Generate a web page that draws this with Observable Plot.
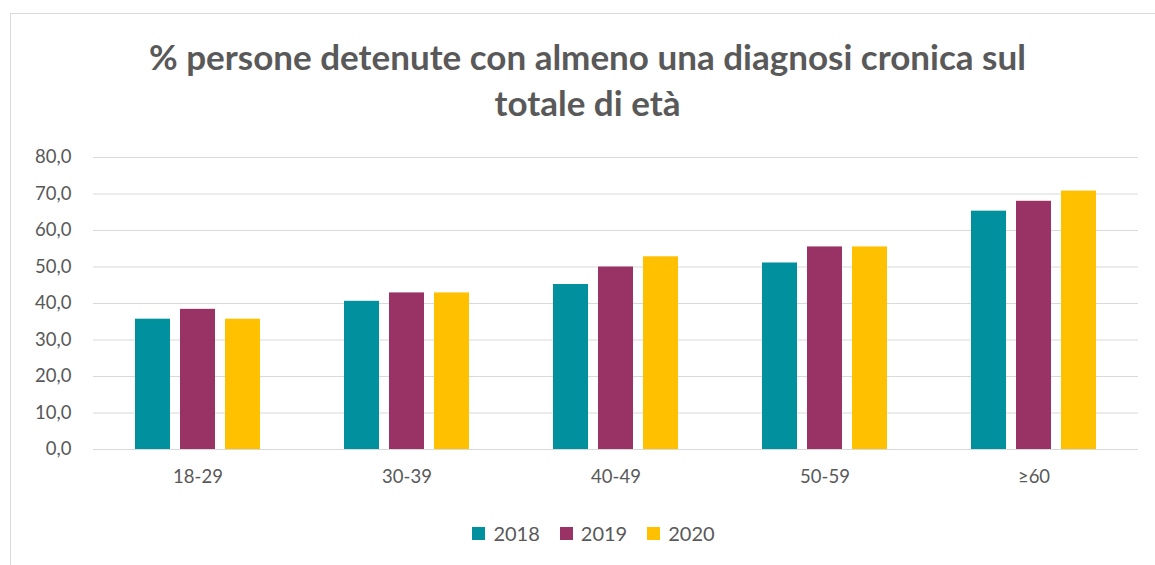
<!DOCTYPE html>
<html>
<head>
<meta charset="utf-8">
<script src="https://cdn.jsdelivr.net/npm/d3@7"></script>
<script src="https://cdn.jsdelivr.net/npm/@observablehq/plot@0.6"></script>
<style>
  html, body { margin: 0; padding: 0; background: #fff; overflow: hidden; }
  body { width: 1155px; height: 565px; position: relative; font-family: Lato, "Open Sans", sans-serif; color: #595959; }
  #frame { position: absolute; left: 10px; top: 13px; width: 1200px; height: 600px; border: 1px solid #d9d9d9; box-sizing: border-box; }
  #title { position: absolute; left: 0; width: 1175px; top: 33px; text-align: center; font-size: 35px; font-weight: 700; line-height: 46px; color: #595959; }
  #chart { position: absolute; left: 0; top: 130px; }
  #chart svg text { font-size: 18.5px; fill: #595959; }
  #legend { position: absolute; left: 0; width: 1187px; top: 521px; display: flex; justify-content: center; gap: 20px; font-size: 20px; color: #595959; }
  .item { display: flex; align-items: center; gap: 8px; }
  .sw { width: 13px; height: 13px; display: inline-block; }
</style>
</head>
<body>
<div id="frame"></div>
<div id="title">% persone detenute con almeno una diagnosi cronica sul<br>totale di età</div>
<div id="chart"></div>
<div id="legend"></div>
<script>
const categories = ["18-29", "30-39", "40-49", "50-59", "≥60"];
const years = ["2018", "2019", "2020"];
const colors = ["#00909e", "#993366", "#ffc000"];
const v2018 = [35.7, 40.6, 45.2, 51.1, 65.3];
const v2019 = [38.4, 42.9, 50.0, 55.5, 68.0];
const v2020 = [35.7, 42.9, 52.8, 55.5, 70.8];
const yTicks = [0, 10, 20, 30, 40, 50, 60, 70, 80];

const series = [v2018, v2019, v2020];
const data = [];
categories.forEach((c, i) => years.forEach((y, j) => data.push({age: c, year: y, value: series[j][i]})));

const fmt = d => d.toFixed(1).replace(".", ",");

const chart = Plot.plot({
  width: 1155,
  height: 370,
  marginLeft: 91,
  marginRight: 15,
  marginTop: 27,
  marginBottom: 51,
  style: {fontFamily: "Lato, 'Open Sans', sans-serif", fontSize: "18.5px", color: "#595959", background: "transparent"},
  fx: {domain: categories, padding: 0, axis: "bottom", tickSize: 0, tickPadding: 20, label: null},
  x: {domain: years, axis: null, paddingInner: 0.217, paddingOuter: 0.891},
  y: {domain: [0, 80], ticks: yTicks, tickSize: 0, tickPadding: 22, tickFormat: fmt, label: null},
  color: {domain: years, range: colors},
  marks: [
    Plot.ruleY(yTicks, {stroke: "#d9d9d9", strokeWidth: 1.2}),
    Plot.barY(data, {fx: "age", x: "year", y: "value", fill: "year"})
  ]
});
document.getElementById("chart").appendChild(chart);

const legend = document.getElementById("legend");
years.forEach((y, i) => {
  const it = document.createElement("div");
  it.className = "item";
  const sw = document.createElement("span");
  sw.className = "sw";
  sw.style.background = colors[i];
  const t = document.createElement("span");
  t.textContent = y;
  it.appendChild(sw);
  it.appendChild(t);
  legend.appendChild(it);
});
</script>
</body>
</html>
